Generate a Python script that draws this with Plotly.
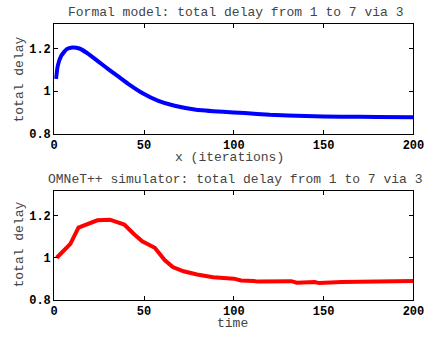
import plotly.graph_objects as go

# Formal model curve
model_x = [1, 2, 4, 7, 10, 14, 19, 25, 31, 36, 42, 49, 58, 67, 79, 94, 106, 120, 140, 160, 180, 200]
model_y = [1.058, 1.12, 1.167, 1.197, 1.205, 1.2, 1.175, 1.136, 1.098, 1.067, 1.030, 0.992, 0.955, 0.932,
           0.914, 0.904, 0.898, 0.890, 0.884, 0.881, 0.880, 0.879]

# OMNeT++ simulator curve
sim_x = [1.4, 9, 13.5, 19, 24, 31, 39, 44.5, 49, 56, 61.5, 66, 72, 79.5, 88.5, 100, 104, 111, 113.5, 132, 135, 145, 147.6, 160, 200]
sim_y = [1.0, 1.066, 1.142, 1.16, 1.177, 1.18, 1.157, 1.111, 1.078, 1.047, 0.989, 0.956, 0.936, 0.921, 0.908, 0.901,
         0.892, 0.890, 0.887, 0.889, 0.882, 0.885, 0.880, 0.885, 0.890]

x_ticks = [0, 50, 100, 150, 200]
y_ticks = [0.8, 1.0, 1.2]
y_tick_text = ["0.8", "1", "1.2"]

MONO = "Liberation Mono"

fig = go.Figure()
fig.add_trace(go.Scatter(x=model_x, y=model_y, mode="lines",
                         line=dict(color="#0000ff", width=4, shape="spline", smoothing=0.5),
                         xaxis="x", yaxis="y", showlegend=False))
fig.add_trace(go.Scatter(x=sim_x, y=sim_y, mode="lines", line=dict(color="#ff0000", width=4),
                         xaxis="x2", yaxis="y2", showlegend=False))

ax_common = dict(showline=True, linecolor="black", linewidth=1, mirror="ticks", ticks="inside",
                 ticklen=4, tickcolor="black", showgrid=False, zeroline=False,
                 tickfont=dict(family=MONO, size=12, color="black", weight="bold"))

xd = [52 / 437, 424 / 437]
fig.update_layout(
    width=437, height=337, margin=dict(l=0, r=0, t=0, b=0),
    paper_bgcolor="white", plot_bgcolor="white",
    xaxis=dict(domain=xd, range=[0, 200], tickvals=x_ticks, anchor="y", **ax_common),
    yaxis=dict(domain=[199.7 / 337, 312.3 / 337], range=[0.8, 1.314], tickvals=y_ticks, ticktext=y_tick_text,
               anchor="x", **ax_common),
    xaxis2=dict(domain=xd, range=[0, 200], tickvals=x_ticks, anchor="y2", **ax_common),
    yaxis2=dict(domain=[29.7 / 337, 141 / 337], range=[0.8, 1.314], tickvals=y_ticks, ticktext=y_tick_text,
                anchor="x2", **ax_common),
)


def ann(text, x, y, angle=0, color="#444"):
    fig.add_annotation(text=text, x=x / 437, y=1 - y / 337, xref="paper", yref="paper",
                       showarrow=False, textangle=angle, xanchor="center", yanchor="middle",
                       font=dict(family=MONO, size=13, color=color))


ann("Formal model: total delay from 1 to 7 via 3", 239.5, 12.5)
ann("x (iterations)", 233.5, 161)
ann("total delay", 16, 81, angle=-90)
ann("OMNeT++ simulator: total delay from 1 to 7 via 3", 239, 184)
ann("time", 237, 331)
ann("total delay", 16, 250, angle=-90)

fig.write_html("out.html")
